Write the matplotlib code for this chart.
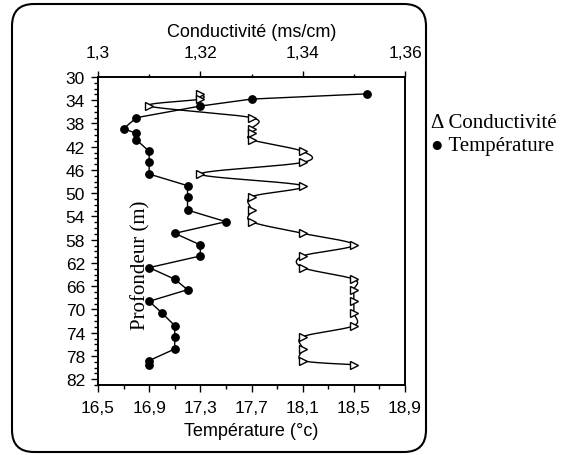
import numpy as np
import matplotlib.pyplot as plt
from matplotlib.patches import FancyBboxPatch
from matplotlib.ticker import FixedLocator, MultipleLocator, FuncFormatter

plt.rcParams['font.family'] = ['Liberation Sans', 'DejaVu Sans']
serif = ['Liberation Serif', 'DejaVu Serif']

# depth of each sample (m), shared by both profiles
profondeur = [32.9, 33.8, 35.0, 37.0, 38.9, 39.7, 40.8, 42.8, 44.7, 46.7, 48.7,
              50.6, 52.9, 54.9, 56.9, 58.9, 60.8, 62.8, 64.8, 66.6, 68.6, 70.6,
              72.8, 74.7, 76.8, 78.8, 79.5]
temperature = [18.6, 17.7, 17.3, 16.8, 16.7, 16.8, 16.8, 16.9, 16.9, 16.9, 17.2,
               17.2, 17.2, 17.5, 17.1, 17.3, 17.3, 16.9, 17.1, 17.2, 16.9, 17.0,
               17.1, 17.1, 17.1, 16.9, 16.9]
conductivite = [1.32, 1.32, 1.31, 1.33, 1.33, 1.33, 1.33, 1.34, 1.34, 1.32, 1.34,
                1.33, 1.33, 1.33, 1.34, 1.35, 1.34, 1.34, 1.35, 1.35, 1.35, 1.35,
                1.35, 1.34, 1.34, 1.34, 1.35]

temp_ticks = [16.5, 16.9, 17.3, 17.7, 18.1, 18.5, 18.9]
cond_ticks = [1.30, 1.32, 1.34, 1.36]
depth_ticks = list(range(30, 83, 4))


def smooth(ax, xs, ys, n=24):
    # bezier smoothing done in screen space so both scales look even
    pts = ax.transData.transform(np.column_stack([xs, ys]))
    p = np.vstack([pts[0], pts, pts[-1]])
    t = np.linspace(0, 1, n)[1:, None]
    out = [pts[0]]
    for i in range(1, len(p) - 2):
        p0, p1, p2, p3 = p[i - 1], p[i], p[i + 1], p[i + 2]
        c1 = p1 + (p2 - p0) / 6
        c2 = p2 - (p3 - p1) / 6
        seg = (1 - t) ** 3 * p1 + 3 * (1 - t) ** 2 * t * c1 + 3 * (1 - t) * t ** 2 * c2 + t ** 3 * p2
        out.extend(seg)
    out = ax.transData.inverted().transform(np.array(out))
    return out[:, 0], out[:, 1]


def comma(v, _):
    return f"{round(v, 2):g}".replace('.', ',')


fig = plt.figure(figsize=(5.7, 4.56), dpi=100)
ax = fig.add_axes([98 / 570, 1 - 386 / 456, 307 / 570, 308 / 456])
ax.set_xlim(16.5, 18.9)
ax.set_ylim(83, 30)
ax2 = ax.twiny()
ax2.set_xlim(1.30, 1.36)

for a in (ax, ax2):
    for s in a.spines.values():
        s.set_linewidth(1.2)

# temperature profile (bottom axis)
ax.plot(temperature, profondeur, color='black', lw=1, marker='o', ms=5.3,
        mfc='black', mec='black', zorder=3)

# conductivity profile (top axis), smoothed line
cx, cy = smooth(ax2, conductivite, profondeur)
ax2.plot(cx, cy, color='black', lw=1, zorder=2)
ax2.plot(conductivite, profondeur, ls='none', marker='>', ms=6,
         mfc='white', mec='black', mew=1, zorder=4)

ax.xaxis.set_major_locator(FixedLocator(temp_ticks))
ax.xaxis.set_minor_locator(FixedLocator([v + 0.2 for v in temp_ticks[:-1]]))
ax.xaxis.set_major_formatter(FuncFormatter(comma))
ax.yaxis.set_major_locator(FixedLocator(depth_ticks))
ax.yaxis.set_minor_locator(MultipleLocator(1))
ax2.xaxis.set_major_locator(FixedLocator(cond_ticks))
ax2.xaxis.set_minor_locator(FixedLocator([1.31, 1.33, 1.35]))
ax2.xaxis.set_major_formatter(FuncFormatter(comma))

ax.tick_params(axis='x', which='major', direction='out', length=5, width=1,
               labelsize=12.5, pad=6, top=False)
ax.tick_params(axis='x', which='minor', direction='out', length=3, width=1, top=False)
ax.tick_params(axis='y', which='major', direction='out', length=4.8, width=1,
               labelsize=12.5, pad=4.5, right=False)
ax.tick_params(axis='y', which='minor', direction='out', length=3, width=1, right=False)
ax2.tick_params(axis='x', which='major', direction='out', length=4, width=1,
                labelsize=12.5, pad=8.5)
ax2.tick_params(axis='x', which='minor', direction='out', length=2.5, width=1)

ax.set_xlabel('Température (°c)', fontsize=13, labelpad=5)
ax2.set_xlabel('Conductivité (ms/cm)', fontsize=13, labelpad=6)

ax.text(0.14, 0.393, 'Profondeur (m)', rotation=90, transform=ax.transAxes,
        ha='center', va='center', fontsize=15, family=serif)

fig.text(431 / 570, 1 - 123 / 456, 'Δ Conductivité', fontsize=15, family=serif,
         ha='left', va='center')
fig.text(431 / 570, 1 - 147 / 456, '● Température', fontsize=15, family=serif,
         ha='left', va='center')

# rounded frame around the chart
frame = FancyBboxPatch((0.12, 0.03), 4.14, 4.48,
                       boxstyle='round,pad=0,rounding_size=0.22',
                       transform=fig.dpi_scale_trans, fill=False,
                       ec='black', lw=1.5)
fig.add_artist(frame)

fig.savefig('out.png', dpi=100)
